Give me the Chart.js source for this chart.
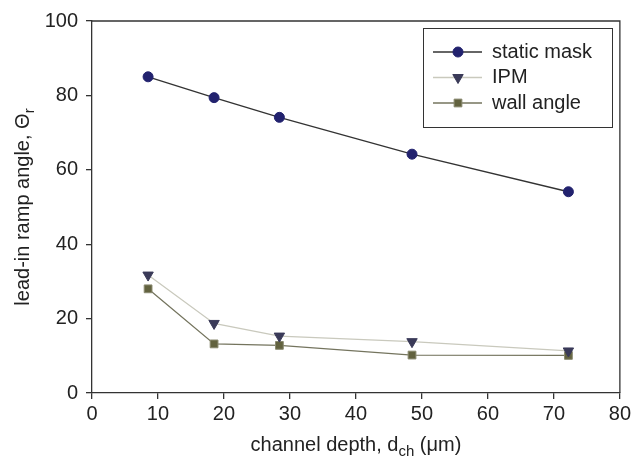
<!DOCTYPE html>
<html>
<head>
<meta charset="utf-8">
<script src="https://cdn.jsdelivr.net/npm/chart.js@4/dist/chart.umd.min.js"></script>
<style>
  html, body { margin: 0; padding: 0; background: #fff; }
  #wrap { width: 634px; height: 459px; }
</style>
</head>
<body>
<div id="wrap"><canvas id="rampChart"></canvas></div>
<script>
// --- data ---
const depthX = [8.5, 18.5, 28.4, 48.5, 72.2];
const staticMask = [85.0, 79.4, 74.1, 64.2, 54.1];
const ipm = [31.7, 18.7, 15.3, 13.8, 11.3];
const wallAngle = [28.0, 13.2, 12.8, 10.2, 10.1];
const seriesNames = ['static mask', 'IPM', 'wall angle'];
const xTicks = [0, 10, 20, 30, 40, 50, 60, 70, 80];
const yTicks = [0, 20, 40, 60, 80, 100];

const FONT = 'Liberation Sans, Arial, sans-serif';
const TXT = '#222';
const markerFill = ['#22226e', '#3a3a58', '#62623f'];
const markerEdge = ['#22226e', '#3a3a58', '#8a8a70'];

function pts(ys) { return depthX.map((x, i) => ({ x: x, y: ys[i] })); }

// draw a text made of pieces (some pieces are subscripts)
function drawParts(ctx, parts, x, y) {
    let w = 0;
    parts.forEach(p => { ctx.font = p[1]; w += ctx.measureText(p[0]).width; });
    x -= w / 2;
    parts.forEach(p => {
        ctx.font = p[1];
        ctx.fillText(p[0], x, y + p[2]);
        x += ctx.measureText(p[0]).width;
    });
}

// axis titles with subscripts + legend box inside the plot
const extras = {
    id: 'extras',
    afterDraw(chart) {
        const ctx = chart.ctx;
        const a = chart.chartArea;
        const big = '20px ' + FONT, small = '15px ' + FONT;
        ctx.save();
        ctx.fillStyle = TXT;
        ctx.textBaseline = 'alphabetic';

        drawParts(ctx, [['channel depth, d', big, 0], ['ch', small, 5], [' (\u03bcm)', big, 0]],
            (a.left + a.right) / 2, 451);

        ctx.save();
        ctx.translate(29, (a.top + a.bottom) / 2);
        ctx.rotate(-Math.PI / 2);
        drawParts(ctx, [['lead-in ramp angle, \u0398', big, 0], ['r', small, 5]], 0, 0);
        ctx.restore();

        // legend
        const bx = 423, by = 28, bw = 189, bh = 99;
        ctx.fillStyle = '#fff';
        ctx.fillRect(bx, by, bw, bh);
        ctx.strokeStyle = '#333';
        ctx.lineWidth = 1;
        ctx.strokeRect(bx + 0.5, by + 0.5, bw, bh);
        const rows = [52, 77.5, 103];
        chart.data.datasets.forEach((ds, i) => {
            const ry = rows[i];
            ctx.strokeStyle = ds.borderColor;
            ctx.lineWidth = ds.borderWidth;
            ctx.beginPath();
            ctx.moveTo(433, ry);
            ctx.lineTo(482, ry);
            ctx.stroke();

            ctx.fillStyle = markerFill[i];
            ctx.strokeStyle = markerEdge[i];
            ctx.lineWidth = 1;
            Chart.helpers.drawPoint(ctx, {
                pointStyle: ds.pointStyle,
                rotation: ds.pointRotation || 0,
                radius: ds.pointRadius,
                borderWidth: 1
            }, 458, ry);

            ctx.fillStyle = TXT;
            ctx.font = big;
            ctx.textBaseline = 'middle';
            ctx.fillText(seriesNames[i], 492, ry);
        });
        ctx.restore();
    }
};

// top and right edges of the plot box
const frame = {
    id: 'frame',
    beforeDatasetsDraw(chart) {
        const a = chart.chartArea, ctx = chart.ctx;
        ctx.save();
        ctx.strokeStyle = '#333';
        ctx.lineWidth = 1.3;
        ctx.beginPath();
        ctx.moveTo(a.left, a.top);
        ctx.lineTo(a.right, a.top);
        ctx.lineTo(a.right, a.bottom);
        ctx.stroke();
        ctx.restore();
    }
};

new Chart(document.getElementById('rampChart'), {
    type: 'scatter',
    data: {
        datasets: [
            {
                label: seriesNames[0],
                data: pts(staticMask),
                showLine: true,
                borderColor: '#333333',
                borderWidth: 1.3,
                pointStyle: 'circle',
                pointRadius: 5,
                pointBackgroundColor: markerFill[0],
                pointBorderColor: markerEdge[0],
                pointBorderWidth: 1
            },
            {
                label: seriesNames[1],
                data: pts(ipm),
                showLine: true,
                borderColor: '#c9c9bd',
                borderWidth: 1.3,
                pointStyle: 'triangle',
                pointRotation: 180,
                pointRadius: 6,
                pointBackgroundColor: markerFill[1],
                pointBorderColor: markerEdge[1],
                pointBorderWidth: 1
            },
            {
                label: seriesNames[2],
                data: pts(wallAngle),
                showLine: true,
                borderColor: '#74745e',
                borderWidth: 1.3,
                pointStyle: 'rect',
                pointRadius: 5.5,
                pointBackgroundColor: markerFill[2],
                pointBorderColor: markerEdge[2],
                pointBorderWidth: 1
            }
        ]
    },
    options: {
        responsive: true,
        maintainAspectRatio: false,
        animation: false,
        layout: { padding: { top: 21, right: 13, left: 0, bottom: 0 } },
        plugins: {
            legend: { display: false },
            tooltip: { enabled: false }
        },
        scales: {
            x: {
                type: 'linear',
                min: 0, max: 80,
                afterBuildTicks: s => { s.ticks = xTicks.map(v => ({ value: v })); },
                afterFit: s => { s.height = 66; },
                border: { display: true, color: '#333', width: 1.3 },
                grid: { display: true, drawOnChartArea: false, drawTicks: true, tickLength: 6, color: '#333', lineWidth: 1.3 },
                ticks: { color: TXT, font: { family: FONT, size: 20 }, padding: 3, maxRotation: 0 }
            },
            y: {
                type: 'linear',
                min: 0, max: 100,
                afterBuildTicks: s => { s.ticks = yTicks.map(v => ({ value: v })); },
                afterFit: s => { s.width = 92; },
                border: { display: true, color: '#333', width: 1.3 },
                grid: { display: true, drawOnChartArea: false, drawTicks: true, tickLength: 6, color: '#333', lineWidth: 1.3 },
                ticks: { color: TXT, font: { family: FONT, size: 20 }, padding: 8 }
            }
        }
    },
    plugins: [frame, extras]
});
</script>
</body>
</html>
